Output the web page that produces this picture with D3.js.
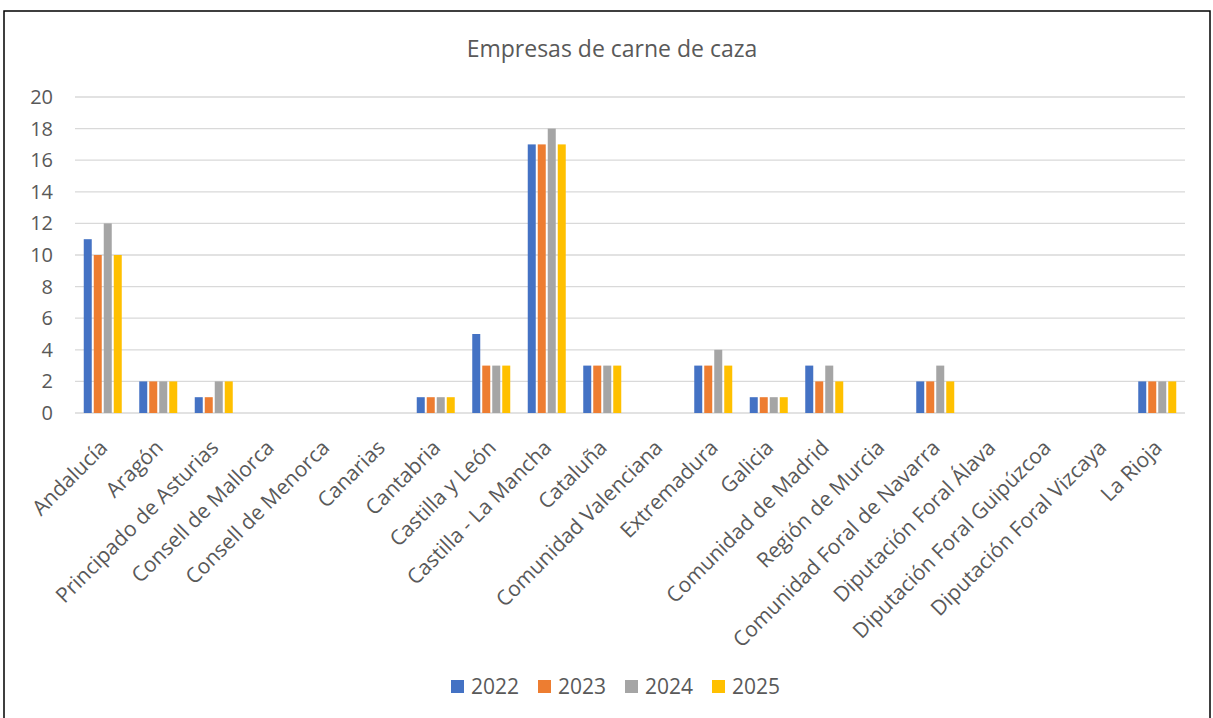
<!DOCTYPE html>
<html>
<head>
<meta charset="utf-8">
<script src="https://cdn.jsdelivr.net/npm/d3@7"></script>
<style>
  body { margin: 0; background: #fff; }
  text { font-family: 'Open Sans', sans-serif; fill: #595959; }
</style>
</head>
<body>
<div id="chart"></div>
<script>
const categories = ['Andalucía', 'Aragón', 'Principado de Asturias', 'Consell de Mallorca',
  'Consell de Menorca', 'Canarias', 'Cantabria', 'Castilla y León', 'Castilla - La Mancha',
  'Cataluña', 'Comunidad Valenciana', 'Extremadura', 'Galicia', 'Comunidad de Madrid',
  'Región de Murcia', 'Comunidad Foral de Navarra', 'Diputación Foral Álava',
  'Diputación Foral Guipúzcoa', 'Diputación Foral Vizcaya', 'La Rioja']
const years = ['2022', '2023', '2024', '2025']
const colors = ['#4472C4', '#ED7D31', '#A5A5A5', '#FFC000']
const v2022 = [11, 2, 1, 0, 0, 0, 1, 5, 17, 3, 0, 3, 1, 3, 0, 2, 0, 0, 0, 2]
const v2023 = [10, 2, 1, 0, 0, 0, 1, 3, 17, 3, 0, 3, 1, 2, 0, 2, 0, 0, 0, 2]
const v2024 = [12, 2, 2, 0, 0, 0, 1, 3, 18, 3, 0, 4, 1, 3, 0, 3, 0, 0, 0, 2]
const v2025 = [10, 2, 2, 0, 0, 0, 1, 3, 17, 3, 0, 3, 1, 2, 0, 2, 0, 0, 0, 2]
const yTicks = [0, 2, 4, 6, 8, 10, 12, 14, 16, 18, 20]
const series = [v2022, v2023, v2024, v2025]

const W = 1213, H = 718
const svg = d3.select('#chart').append('svg').attr('width', W).attr('height', H)

svg.append('rect')
   .attr('x', 4).attr('y', 11)
   .attr('width', 1206).attr('height', 730)
   .attr('fill', '#fff').attr('stroke', '#000').attr('stroke-width', 1.5)

svg.append('text')
   .attr('x', 612).attr('y', 57)
   .attr('text-anchor', 'middle')
   .style('font-size', '23px')
   .text('Empresas de carne de caza')

let x = d3.scaleBand().domain(categories).range([75, 1185]).padding(0)
let y = d3.scaleLinear().domain([0, 20]).range([413, 97])
let inner = d3.scaleBand().domain(years).range([-19, 21]).padding(0)

// grid
svg.append('g')
   .selectAll('line')
   .data(yTicks)
   .join('line')
   .attr('x1', 75).attr('x2', 1185)
   .attr('y1', d => y(d)).attr('y2', d => y(d))
   .attr('stroke', '#D9D9D9').attr('stroke-width', 1.3)

let yAxis = d3.axisLeft(y).tickValues(yTicks).tickSize(0).tickPadding(0)
svg.append('g')
   .attr('transform', 'translate(53,0)')
   .call(yAxis)
   .call(g => g.select('.domain').remove())
   .selectAll('text')
   .style('font-size', '20px')
   .attr('fill', '#595959')
   .style('font-family', "'Open Sans', sans-serif")

// bars
series.forEach((vals, si) => {
  svg.append('g')
     .selectAll('rect')
     .data(vals)
     .join('rect')
     .attr('x', (d, i) => x(categories[i]) + x.bandwidth() / 2 + inner(years[si]))
     .attr('width', inner.bandwidth() - 2)
     .attr('y', d => y(d))
     .attr('height', d => y(0) - y(d))
     .attr('fill', colors[si])
})

// category labels, rotated, ending just right of the group centre
svg.append('g')
   .selectAll('text')
   .data(categories)
   .join('text')
   .attr('text-anchor', 'end')
   .style('font-size', '21px')
   .attr('transform', d => 'translate(' + (x(d) + x.bandwidth() / 2 + 6) + ',449) rotate(-45)')
   .text(d => d)

// legend
let legend = svg.append('g')
years.forEach((yr, i) => {
  let g = legend.append('g').attr('transform', 'translate(' + (451 + i * 87) + ',680)')
  g.append('rect').attr('width', 13).attr('height', 13).attr('fill', colors[i])
  g.append('text').attr('x', 20).attr('y', 14).style('font-size', '21px').text(yr)
})
</script>
</body>
</html>
